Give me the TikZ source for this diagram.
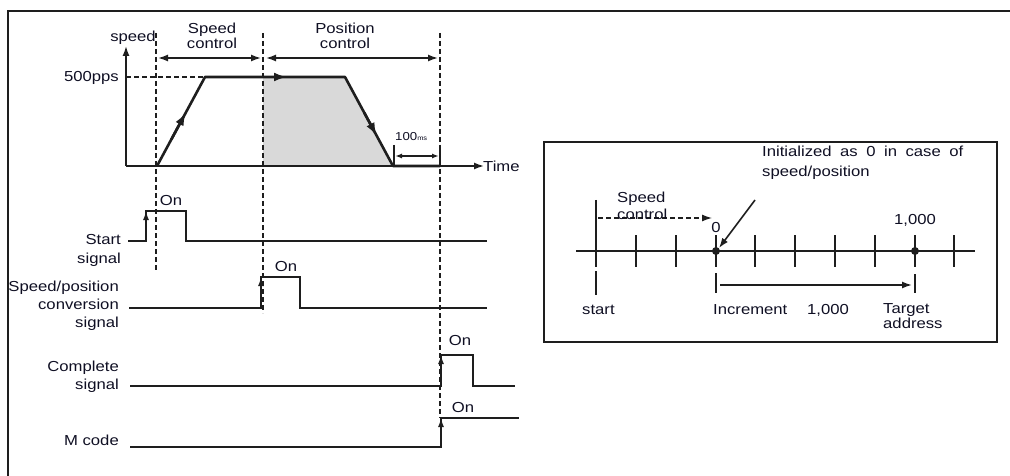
\documentclass[tikz,border=0pt]{standalone}
\usepackage{fontspec}
\setmainfont{Liberation Sans}[FakeStretch=1.15]
\usetikzlibrary{arrows.meta,calc}
\definecolor{ink}{RGB}{30,30,30}
\definecolor{txt}{RGB}{15,15,35}
\definecolor{shadegray}{RGB}{217,217,217}
\newlength{\widesp}
\setlength{\widesp}{8.5pt}
\begin{document}
\begin{tikzpicture}[x=1pt,y=-1pt,
  lbl/.style={font=\fontsize{14.5}{15}\selectfont, text=txt, inner sep=0pt},
  wave/.style={draw=ink, line width=1.6pt},
  dsh/.style={draw=ink, line width=1.3pt, dash pattern=on 5pt off 3pt},
  tipa/.style={-{Latex[length=10pt,width=7pt]}},
  tipc/.style={-{Latex[length=9pt,width=6pt]}},
  tipb/.style={{Latex[length=10pt,width=7pt]}-{Latex[length=10pt,width=7pt]}},
  tipbs/.style={{Latex[length=7pt,width=5pt]}-{Latex[length=7pt,width=5pt]}},
  tipp/.style={-{Latex[length=13pt,width=9pt]}},
  dotn/.style={circle, fill=ink, inner sep=0pt, minimum size=8pt}]
\useasboundingbox (0,0) rectangle (1010,476);
% outer frame
\draw[draw=ink, line width=1.5pt] (8,476) -- (8,11) -- (1010,11);

% ---------- speed profile ----------
\coordinate (O) at (126,166);
\coordinate (Ytop) at (126,46);
\coordinate (Xend) at (484,166);
\coordinate (P0) at (157,166);
\coordinate (P1) at (205,77);
\coordinate (P2) at (345,77);
\coordinate (P3) at (393,166);
\coordinate (P4) at (440,166);
\coordinate (Pc) at (263,77);
\coordinate (Pcb) at (263,166);
\coordinate (Y500) at (126,77);
\fill[shadegray] (Pc) -- (P2) -- (P3) -- (Pcb) -- cycle;
\draw[wave, tipa] (O) -- (Ytop);
\draw[wave, tipa] (O) -- (Xend);
\draw[dsh] (Y500) -- (P1);
\draw[draw=ink, line width=2.6pt, line join=round] (P0) -- (P1) -- (P2) -- (P3) -- (P4);
\draw[draw=ink, line width=2.6pt, tipp] ($(P0)!0.3!(P1)$) -- ($(P0)!0.6!(P1)$);
\draw[draw=ink, line width=2.6pt, tipp] (262,77) -- (287,77);
\draw[draw=ink, line width=2.6pt, tipp] ($(P2)!0.4!(P3)$) -- ($(P2)!0.66!(P3)$);

\node[lbl] (speed) at (133,38) {speed};
\node[lbl, anchor=east] (pps) at (119,78) {500pps};
\node[lbl, anchor=west] (time) at (483,166) {Time};

% dashed verticals
\coordinate (D1t) at (156,33); \coordinate (D1b) at (156,272);
\coordinate (D2t) at (263,33); \coordinate (D2b) at (263,313);
\coordinate (D3t) at (440,33); \coordinate (D3b) at (440,418);
\draw[dsh] (D1t) -- (D1b);
\draw[dsh] (D2t) -- (D2b);
\draw[dsh] (D3t) -- (D3b);

% control ranges
\coordinate (S1) at (158,58); \coordinate (S2) at (261,58);
\coordinate (Q1) at (266,58); \coordinate (Q2) at (438,58);
\draw[wave, tipb] (S1) -- (S2);
\draw[wave, tipb] (Q1) -- (Q2);
\node[lbl, align=center, font=\fontsize{14.5}{15}\selectfont] (sc) at (212,36) {Speed\\control};
\node[lbl, align=center, font=\fontsize{14.5}{15}\selectfont] (pc) at (345,36) {Position\\control};

% 100 ms
\coordinate (T1a) at (394,145); \coordinate (T1b) at (394,166);
\coordinate (T2a) at (440,145); \coordinate (T2b) at (440,166);
\draw[wave] (T1a) -- (T1b);
\draw[wave] (T2a) -- (T2b);
\draw[wave, tipbs] (395,156) -- (439,156);
\node[lbl, anchor=west, font=\fontsize{11.5}{12}\selectfont] (ms) at (395,137) {100{\fontsize{6.5}{6.5}\selectfont ms}};

% ---------- signals ----------
% start
\coordinate (a0) at (128,241); \coordinate (a1) at (146,241); \coordinate (a2) at (146,211);
\coordinate (a3) at (186,211); \coordinate (a4) at (186,241); \coordinate (a5) at (487,241);
\draw[wave] (a0) -- (a1) -- (a2) -- (a3) -- (a4) -- (a5);
\draw[wave, tipc] (146,232) -- (a2);
\node[lbl] (on1) at (171,201) {On};
\node[lbl, anchor=east, align=right, font=\fontsize{14.5}{19}\selectfont] (startlbl) at (121,250) {Start\\signal};

% speed/position conversion
\coordinate (b0) at (129,308); \coordinate (b1) at (261,308); \coordinate (b2) at (261,277);
\coordinate (b3) at (300,277); \coordinate (b4) at (300,308); \coordinate (b5) at (487,308);
\draw[wave] (b0) -- (b1) -- (b2) -- (b3) -- (b4) -- (b5);
\draw[wave, tipc] (261,298) -- (b2);
\node[lbl] (on2) at (286,267) {On};
\node[lbl, anchor=east, align=right, font=\fontsize{14.5}{18}\selectfont] (convlbl) at (119,306) {Speed/position\\conversion\\signal};

% complete
\coordinate (c0) at (130,386); \coordinate (c1) at (441,386); \coordinate (c2) at (441,355);
\coordinate (c3) at (473,355); \coordinate (c4) at (473,386); \coordinate (c5) at (515,386);
\draw[wave] (c0) -- (c1) -- (c2) -- (c3) -- (c4) -- (c5);
\draw[wave, tipc] (441,376) -- (c2);
\node[lbl] (on3) at (460,341) {On};
\node[lbl, anchor=east, align=right, font=\fontsize{14.5}{18}\selectfont] (complbl) at (119,377) {Complete\\signal};

% M code
\coordinate (m0) at (130,447); \coordinate (m1) at (441,447); \coordinate (m2) at (441,418);
\coordinate (m3) at (519,418);
\draw[wave] (m0) -- (m1) -- (m2) -- (m3);
\draw[wave, tipc] (441,438) -- (m2);
\node[lbl] (on4) at (463,408) {On};
\node[lbl, anchor=east] (mlbl) at (119,440) {M code};

% ---------- right box ----------
\draw[draw=ink, line width=2.2pt] (544,142) rectangle (997,342);
\coordinate (L0) at (576,251); \coordinate (L1) at (975,251);
\draw[wave] (L0) -- (L1);
\draw[draw=ink, line width=2.6pt] (716,251) -- (915,251);
\foreach \xx in {636,676,716,755,795,835,875,915,954}{
  \draw[wave] (\xx,235) -- (\xx,267);
}
\draw[wave] (596,200) -- (596,267);
\draw[wave] (596,271) -- (596,295);
\draw[wave] (716,273) -- (716,293);
\draw[wave] (915,274) -- (915,293);
\node[dotn] (zero) at (716,251) {};
\node[dotn] (thou) at (915,251) {};
\draw[dsh, tipa] (598,218) -- (712,218);
\node[lbl, anchor=west, align=left, font=\fontsize{14.5}{17}\selectfont] (scr) at (617,206) {Speed\\control};
\node[lbl] (zlbl) at (716,228) {0};
\node[lbl] (tlbl) at (915,220) {1,000};
\node[lbl, anchor=west, align=left, font=\fontsize{14.5}{20}\selectfont] (init) at (762,163) {\spaceskip\widesp Initialized as 0 in case of\\speed/position};
\coordinate (ia) at (755,200);
\draw[wave, tipa] (ia) -- (zero.north east);
\draw[wave, tipa] (720,285) -- (912,285);
\node[lbl, anchor=west] (st) at (582,310) {start};
\node[lbl, anchor=west] (inc) at (713,310) {Increment};
\node[lbl, anchor=west] (incv) at (807,310) {1,000};
\node[lbl, anchor=west, align=left, font=\fontsize{14.5}{15}\selectfont] (tgt) at (883,316) {Target\\address};
\end{tikzpicture}
\end{document}
